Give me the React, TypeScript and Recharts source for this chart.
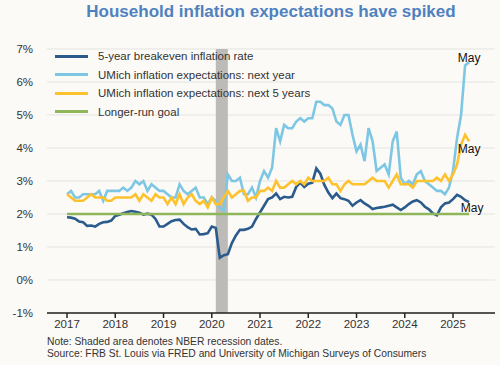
import { CartesianGrid, Line, LineChart, ReferenceArea, XAxis, YAxis } from "recharts";

// monthly, Jan 2017 .. May 2025
const startYear = 2017;

const breakeven = [
  1.9, 1.89, 1.86, 1.77, 1.75, 1.64, 1.65, 1.62, 1.7, 1.75, 1.76, 1.8, // 2017
  1.94, 1.98, 2.02, 2.06, 2.09, 2.07, 2.04, 1.98, 2.01, 1.98, 1.85, 1.62, // 2018
  1.62, 1.7, 1.78, 1.82, 1.83, 1.7, 1.6, 1.53, 1.55, 1.38, 1.39, 1.42, // 2019
  1.62, 1.58, 0.67, 0.75, 0.78, 1.12, 1.35, 1.52, 1.52, 1.55, 1.62, 1.85, // 2020
  2.05, 2.25, 2.45, 2.5, 2.62, 2.45, 2.52, 2.5, 2.52, 2.82, 2.95, 2.82, // 2021
  2.92, 2.95, 3.38, 3.22, 2.88, 2.65, 2.48, 2.62, 2.48, 2.45, 2.4, 2.25, // 2022
  2.35, 2.42, 2.32, 2.25, 2.15, 2.18, 2.2, 2.22, 2.25, 2.28, 2.2, 2.12, // 2023
  2.2, 2.3, 2.38, 2.42, 2.35, 2.22, 2.14, 2.02, 1.96, 2.2, 2.32, 2.35, // 2024
  2.45, 2.58, 2.52, 2.42, 2.36, // 2025
];

const umichNextYear = [
  2.6, 2.7, 2.5, 2.5, 2.6, 2.6, 2.6, 2.6, 2.7, 2.4, 2.7, 2.7, // 2017
  2.7, 2.7, 2.8, 2.7, 2.8, 3.0, 2.9, 3.0, 2.7, 2.9, 2.8, 2.7, // 2018
  2.7, 2.6, 2.5, 2.5, 2.9, 2.7, 2.6, 2.7, 2.8, 2.5, 2.5, 2.3, // 2019
  2.5, 2.4, 2.2, 2.1, 3.2, 3.0, 3.0, 3.1, 2.6, 2.6, 2.8, 2.5, // 2020
  3.0, 3.3, 3.1, 3.4, 4.6, 4.2, 4.7, 4.6, 4.6, 4.8, 4.9, 4.8, // 2021
  4.9, 4.9, 5.4, 5.4, 5.3, 5.3, 5.2, 4.8, 4.7, 5.0, 5.0, 4.4, // 2022
  3.9, 4.1, 3.6, 4.6, 4.2, 3.3, 3.4, 3.5, 3.2, 4.2, 4.5, 3.1, // 2023
  2.9, 3.0, 2.9, 3.2, 3.3, 3.0, 2.9, 2.8, 2.7, 2.7, 2.6, 2.8, // 2024
  3.3, 4.3, 5.0, 6.5, 6.6, // 2025
];

const umichNext5 = [
  2.6, 2.5, 2.4, 2.4, 2.4, 2.5, 2.6, 2.5, 2.5, 2.5, 2.4, 2.4, // 2017
  2.5, 2.5, 2.5, 2.5, 2.5, 2.6, 2.4, 2.6, 2.5, 2.4, 2.6, 2.5, // 2018
  2.5, 2.3, 2.5, 2.3, 2.6, 2.3, 2.5, 2.6, 2.4, 2.3, 2.4, 2.2, // 2019
  2.5, 2.3, 2.3, 2.5, 2.7, 2.5, 2.6, 2.7, 2.7, 2.4, 2.5, 2.5, // 2020
  2.7, 2.7, 2.8, 2.7, 3.0, 2.8, 2.8, 2.9, 3.0, 2.9, 3.0, 2.9, // 2021
  3.1, 3.0, 3.0, 3.0, 3.0, 3.1, 2.9, 2.9, 2.7, 2.9, 3.0, 2.9, // 2022
  2.9, 2.9, 2.9, 3.0, 3.1, 3.0, 3.0, 3.0, 2.8, 3.0, 3.2, 2.9, // 2023
  2.9, 2.9, 2.8, 3.0, 3.0, 3.0, 3.0, 3.0, 3.1, 3.0, 3.2, 3.0, // 2024
  3.2, 3.5, 4.1, 4.4, 4.2, // 2025
];

const goal = 2;

const yearTicks = [2017, 2018, 2019, 2020, 2021, 2022, 2023, 2024, 2025];
const pctTicks = [-1, 0, 1, 2, 3, 4, 5, 6, 7];
const recession = [2020 + 1 / 12, 2020 + 4 / 12]; // Feb-Apr 2020

const series = [
  { key: "be", name: "5-year breakeven inflation rate", color: "#2b5b8c" },
  { key: "y1", name: "UMich inflation expectations: next year", color: "#7ec7e4" },
  { key: "y5", name: "UMich inflation expectations: next 5 years", color: "#fdc22e" },
  { key: "goal", name: "Longer-run goal", color: "#8fb75a" },
];

const data = breakeven.map((v, i) => ({
  t: startYear + i / 12,
  be: v,
  y1: umichNextYear[i],
  y5: umichNext5[i],
  goal,
}));

const last = data.length - 1;
const font = '"Liberation Sans", Arial, sans-serif';

function mayLabel(dx: number, dy: number) {
  return (p: any) =>
    p.index === last ? (
      <text x={p.x + dx} y={p.y + dy} textAnchor="middle" fontSize={12} fill="#111" fontFamily={font}>
        May
      </text>
    ) : null;
}

export default function App() {
  return (
    <div style={{ position: "absolute", left: 0, top: 0, width: 500, height: 365, background: "#fbfaf7", fontFamily: font }}>
      <div style={{ position: "absolute", top: 2, left: 0, width: 542, textAlign: "center", fontSize: 17, fontWeight: 700, color: "#4f81c0" }}>
        Household inflation expectations have spiked
      </div>
      <LineChart width={500} height={365} data={data} margin={{ top: 49, right: 5, bottom: 22, left: 0 }}>
        <CartesianGrid vertical={false} stroke="#e4e3df" />
        <ReferenceArea x1={recession[0]} x2={recession[1]} fill="#bcbbb7" fillOpacity={1} stroke="none" />
        <XAxis
          dataKey="t"
          type="number"
          domain={[2016.585, 2025.87]}
          ticks={yearTicks}
          allowDataOverflow
          height={30}
          stroke="#222"
          strokeWidth={1.5}
          tickSize={5}
          tick={{ fontSize: 11.5, fill: "#333", fontFamily: font }}
        />
        <YAxis
          domain={[-1, 7]}
          ticks={pctTicks}
          width={47}
          axisLine={false}
          tickLine={false}
          tickMargin={8}
          tickFormatter={(v) => `${v}%`}
          tick={{ fontSize: 11.5, fill: "#333", fontFamily: font }}
        />
        {series.map((s) => (
          <Line
            key={s.key}
            dataKey={s.key}
            stroke={s.color}
            strokeWidth={2.6}
            dot={false}
            isAnimationActive={false}
            label={s.key === "be" ? mayLabel(3, 10) : s.key === "y1" ? mayLabel(0, 0) : s.key === "y5" ? mayLabel(0, 12) : false}
          />
        ))}
      </LineChart>
      <div style={{ position: "absolute", left: 55, top: 47, fontSize: 11.5, color: "#333", lineHeight: "18.5px" }}>
        {series.map((s) => (
          <div key={s.key} style={{ display: "flex", alignItems: "center" }}>
            <span style={{ display: "inline-block", width: 33, height: 3, background: s.color, marginRight: 10 }} />
            {s.name}
          </div>
        ))}
      </div>
      <div style={{ position: "absolute", left: 47, top: 336, fontSize: 10.3, color: "#333", lineHeight: "11.5px" }}>
        <div>Note: Shaded area denotes NBER recession dates.</div>
        <div>Source: FRB St. Louis via FRED and University of Michigan Surveys of Consumers</div>
      </div>
    </div>
  );
}
